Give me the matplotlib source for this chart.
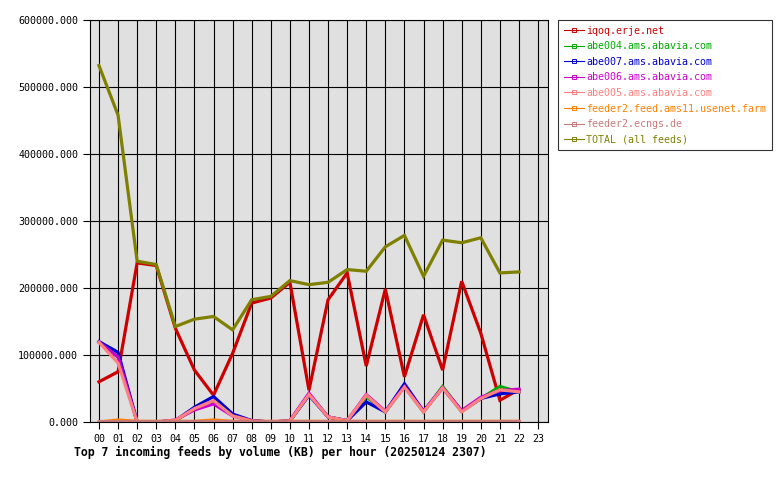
import matplotlib
matplotlib.use("Agg")
import matplotlib.pyplot as plt
from matplotlib.lines import Line2D

hours = list(range(23))
hour_labels = ["%02d" % h for h in range(24)]

feeds = ["iqoq.erje.net", "abe004.ams.abavia.com", "abe007.ams.abavia.com",
         "abe006.ams.abavia.com", "abe005.ams.abavia.com",
         "feeder2.feed.ams11.usenet.farm", "feeder2.ecngs.de", "TOTAL (all feeds)"]
colors = ["#cc0000", "#00aa00", "#0000cc", "#cc00cc", "#ff8080",
          "#ff8000", "#c87a7a", "#808000"]

iqoq = [60000, 75000, 237500, 233500, 140000, 77500, 40000, 102500, 177500, 185000,
        208500, 47500, 182500, 222500, 83500, 198500, 67500, 160000, 77500, 210000,
        132500, 32500, 48500]
abe004 = [119000, 97000, 0, 0, 2000, 20000, 30000, 10000, 2000, 0,
          1500, 41000, 7500, 2000, 38000, 15000, 53000, 15000, 53000, 16000,
          35000, 53000, 45000]
abe007 = [120000, 104000, 0, 0, 2000, 22000, 38000, 12000, 2000, 0,
          1500, 40000, 7500, 2000, 30000, 15000, 57000, 16000, 51000, 16000,
          35000, 42000, 45000]
abe006 = [119000, 97000, 0, 0, 3000, 18000, 27000, 9000, 2000, 0,
          2000, 43000, 7500, 2000, 41000, 16000, 53000, 16000, 51000, 17000,
          37000, 47000, 49000]
abe005 = [119000, 88000, 0, 0, 2500, 20000, 32000, 9000, 1500, 0,
          1500, 41000, 7500, 2000, 40000, 15000, 52000, 15000, 51000, 15000,
          35000, 48000, 45000]
ams11 = [0, 3000, 1000, 1000, 1000, 1000, 3000, 1000, 1000, 1000,
         1000, 1000, 1000, 1000, 1000, 1000, 1000, 1000, 1000, 1000,
         1000, 1000, 1000]
ecngs = [1000] * 23
total = [532000, 458000, 240000, 235000, 142500, 153500, 157500, 137500, 182500, 187500,
         211000, 205000, 208500, 227500, 225000, 261500, 278500, 217500, 271500, 267500,
         275000, 222500, 224000]

series = [iqoq, abe004, abe007, abe006, abe005, ams11, ecngs, total]

plt.rcParams['font.family'] = ['DejaVu Sans Mono']

fig = plt.figure(figsize=(7.8, 4.8), dpi=100)
ax = fig.add_axes([90/780, 1-422/480, 458/780, 402/480])
ax.set_facecolor("#e0e0e0")

for vals, c in zip(series, colors):
    ax.plot(hours, vals, color=c, linewidth=2.3, solid_joinstyle='miter')

ax.set_xlim(-0.47, 23.52)
ax.set_ylim(0, 600000)
ax.set_xticks(range(24))
ax.set_xticklabels(hour_labels)
ax.set_yticks(range(0, 600001, 100000))
ax.set_yticklabels(["%.3f" % v for v in range(0, 600001, 100000)])
ax.tick_params(labelsize=7.2, length=5, width=0.8, colors='black')
ax.grid(True, color='black', linewidth=0.8)
ax.set_axisbelow(True)
for s in ax.spines.values():
    s.set_linewidth(0.8)

fig.text(74/780, 1-452/480, "Top 7 incoming feeds by volume (KB) per hour (20250124 2307)",
         fontsize=8.3, fontweight='bold', ha='left', va='center')

handles = [Line2D([0], [0], color=c, linewidth=0.8, marker='s', markersize=2.5,
                  markerfacecolor='none', markeredgewidth=0.7) for c in colors]
leg = fig.legend(handles, feeds, loc='upper left', bbox_to_anchor=(558/780, 1-20/480),
                 borderaxespad=0, fontsize=7.2, frameon=True, fancybox=False,
                 edgecolor='black', handlelength=2.0, handletextpad=0.3,
                 labelspacing=0.56, borderpad=0.55, markerscale=1)
leg.get_frame().set_linewidth(0.8)
for t, c in zip(leg.get_texts(), colors):
    t.set_color(c)

fig.savefig("out.png", dpi=100)
